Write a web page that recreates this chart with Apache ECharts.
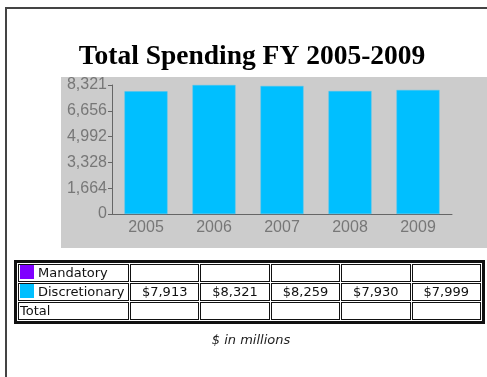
<!DOCTYPE html>
<html>
<head>
<meta charset="utf-8">
<script src="https://cdn.jsdelivr.net/npm/echarts@6/dist/echarts.min.js"></script>
<style>
  html, body { margin: 0; padding: 0; background: #fff; }
  #wrap { position: relative; width: 487px; height: 377px; overflow: hidden; }
  #frame { position: absolute; left: 5px; top: 7px; width: 500px; height: 400px;
           border-left: 2px solid #444; border-top: 2px solid #444; }
  #chart { position: absolute; left: 0; top: 0; width: 487px; height: 377px; }
  #tbl { position: absolute; left: 14px; top: 260px; width: 471px;
         border: 3px solid #111; border-spacing: 1px; border-collapse: separate;
         font-family: "DejaVu Sans", Verdana, sans-serif; font-size: 13px; color: #111; }
  #tbl td { border: 1px solid #111; height: 16px; padding: 0 2px; text-align: center;
            white-space: nowrap; line-height: 16px; }
  #tbl td.name { text-align: left; width: 106px; padding-left: 1px; }
  #tbl .sw { display: inline-block; width: 14px; height: 14px; vertical-align: -2px; margin-right: 4px; }
  #note { position: absolute; left: 0; width: 502px; top: 332px; text-align: center;
          font-family: "DejaVu Sans", Verdana, sans-serif; font-size: 13px; font-style: italic; color: #222; }
</style>
</head>
<body>
<div id="wrap">
  <div id="frame"></div>
  <div id="chart"></div>
  <table id="tbl"></table>
  <div id="note">$ in millions</div>
</div>
<script>
// data
var years = ['2005', '2006', '2007', '2008', '2009'];
var discretionary = [7913, 8321, 8259, 7930, 7999];
var mandatory = [null, null, null, null, null];
var total = [null, null, null, null, null];
var rowNames = ['Mandatory', 'Discretionary', 'Total'];
var rowColors = ['#7f00ff', '#00bfff', null];
var yMax = 8321;

function fmt(v) {
    return Math.floor(v + 1e-6).toString().replace(/\B(?=(\d{3})+(?!\d))/g, ',');
}

var chart = echarts.init(document.getElementById('chart'));

var option = {
    animation: false,
    title: {
        text: 'Total Spending FY 2005-2009',
        left: 247,
        textAlign: 'center',
        top: 38,
        textStyle: {
            fontFamily: '"Liberation Serif", "Times New Roman", serif',
            fontWeight: 'bold',
            fontSize: 27.5,
            color: '#000'
        }
    },
    graphic: [{
        type: 'rect',
        z: -10,
        shape: { x: 61, y: 77, width: 426, height: 171 },
        style: { fill: '#cccccc' },
        silent: true
    }],
    grid: {
        left: 112,
        top: 85,
        width: 340,
        height: 129
    },
    xAxis: {
        type: 'category',
        data: years,
        axisLine: { lineStyle: { color: '#666', width: 1 } },
        axisTick: { alignWithLabel: true, length: 4, lineStyle: { color: '#666' } },
        axisLabel: { color: '#777', fontSize: 16, fontFamily: '"Liberation Sans", Arial, sans-serif', margin: 6 }
    },
    yAxis: {
        type: 'value',
        min: 0,
        max: yMax,
        interval: yMax / 5,
        splitLine: { show: false },
        axisLine: { show: true, lineStyle: { color: '#666', width: 1 } },
        axisTick: { show: true, length: 4, lineStyle: { color: '#666' } },
        axisLabel: {
            color: '#777', fontSize: 16, margin: 5,
            fontFamily: '"Liberation Sans", Arial, sans-serif',
            formatter: fmt
        }
    },
    series: [
        {
            name: 'Mandatory',
            type: 'bar',
            stack: 'total',
            barWidth: 43,
            itemStyle: { color: '#7f00ff' },
            data: mandatory
        },
        {
            name: 'Discretionary',
            type: 'bar',
            stack: 'total',
            barWidth: 43,
            itemStyle: { color: '#00bfff', borderColor: '#4cc4ee', borderWidth: 0.5 },
            data: discretionary
        }
    ]
};
chart.setOption(option);

// data table under the chart
var rows = [mandatory, discretionary, total];
var html = '';
rows.forEach(function (vals, i) {
    html += '<tr><td class="name">';
    if (rowColors[i]) {
        html += '<span class="sw" style="background:' + rowColors[i] + '"></span>';
    }
    html += rowNames[i] + '</td>';
    vals.forEach(function (v) {
        html += '<td>' + (v == null ? '' : '$' + fmt(v)) + '</td>';
    });
    html += '</tr>';
});
document.getElementById('tbl').innerHTML = html;
</script>
</body>
</html>
